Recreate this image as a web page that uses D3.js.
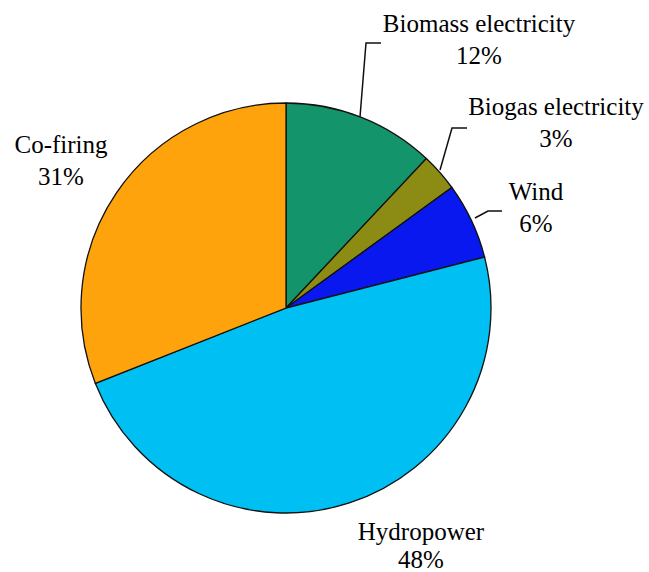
<!DOCTYPE html>
<html>
<head>
<meta charset="utf-8">
<script src="https://cdn.jsdelivr.net/npm/d3@7"></script>
</head>
<body style="margin:0; background:#fff">
<svg id="chart" width="649" height="572"></svg>
<script>
const sources = ["Biomass electricity", "Biogas electricity", "Wind", "Hydropower", "Co-firing"];
const shares = [12, 3, 6, 48, 31];
const colors = ["#13946a", "#8c8c14", "#0a18f0", "#00bff3", "#ffa30c"];

// label anchor (centre of text block, first baseline) and leader lines
const labelPos = [[479, 32], [556, 115], [536, 200], [421, 540], [61, 153]];
const leaders = [
  [[360, 117], [366, 43], [381, 43]],
  [[440, 170], [452, 128], [467, 128]],
  [[475, 218], [488, 211], [502, 211]],
  null, null
];

const svg = d3.select("#chart");
const cx = 286, cy = 308, r = 205;

const pie = d3.pie().sort(null).value(d => d)(shares);
const arc = d3.arc().innerRadius(0).outerRadius(r);

const g = svg.append("g").attr("transform", `translate(${cx},${cy})`);
g.selectAll("path")
  .data(pie)
  .enter()
  .append("path")
  .attr("d", arc)
  .attr("fill", (d, i) => colors[i])
  .attr("stroke", "#111")
  .attr("stroke-width", 1.3);

const line = d3.line();
leaders.forEach(pts => {
  if (!pts) return;
  svg.append("path")
    .attr("d", line(pts))
    .attr("fill", "none")
    .attr("stroke", "#111")
    .attr("stroke-width", 1.5);
});

function label(x, y, str) {
  svg.append("text")
    .attr("x", x).attr("y", y)
    .attr("text-anchor", "middle")
    .attr("font-family", "Liberation Serif")
    .attr("font-size", 25)
    .text(str);
}

sources.forEach((s, i) => {
  const [x, y] = labelPos[i];
  label(x, y, s);
  label(x, y + (i == 3 ? 28 : 32), shares[i] + "%");
});
</script>
</body>
</html>
